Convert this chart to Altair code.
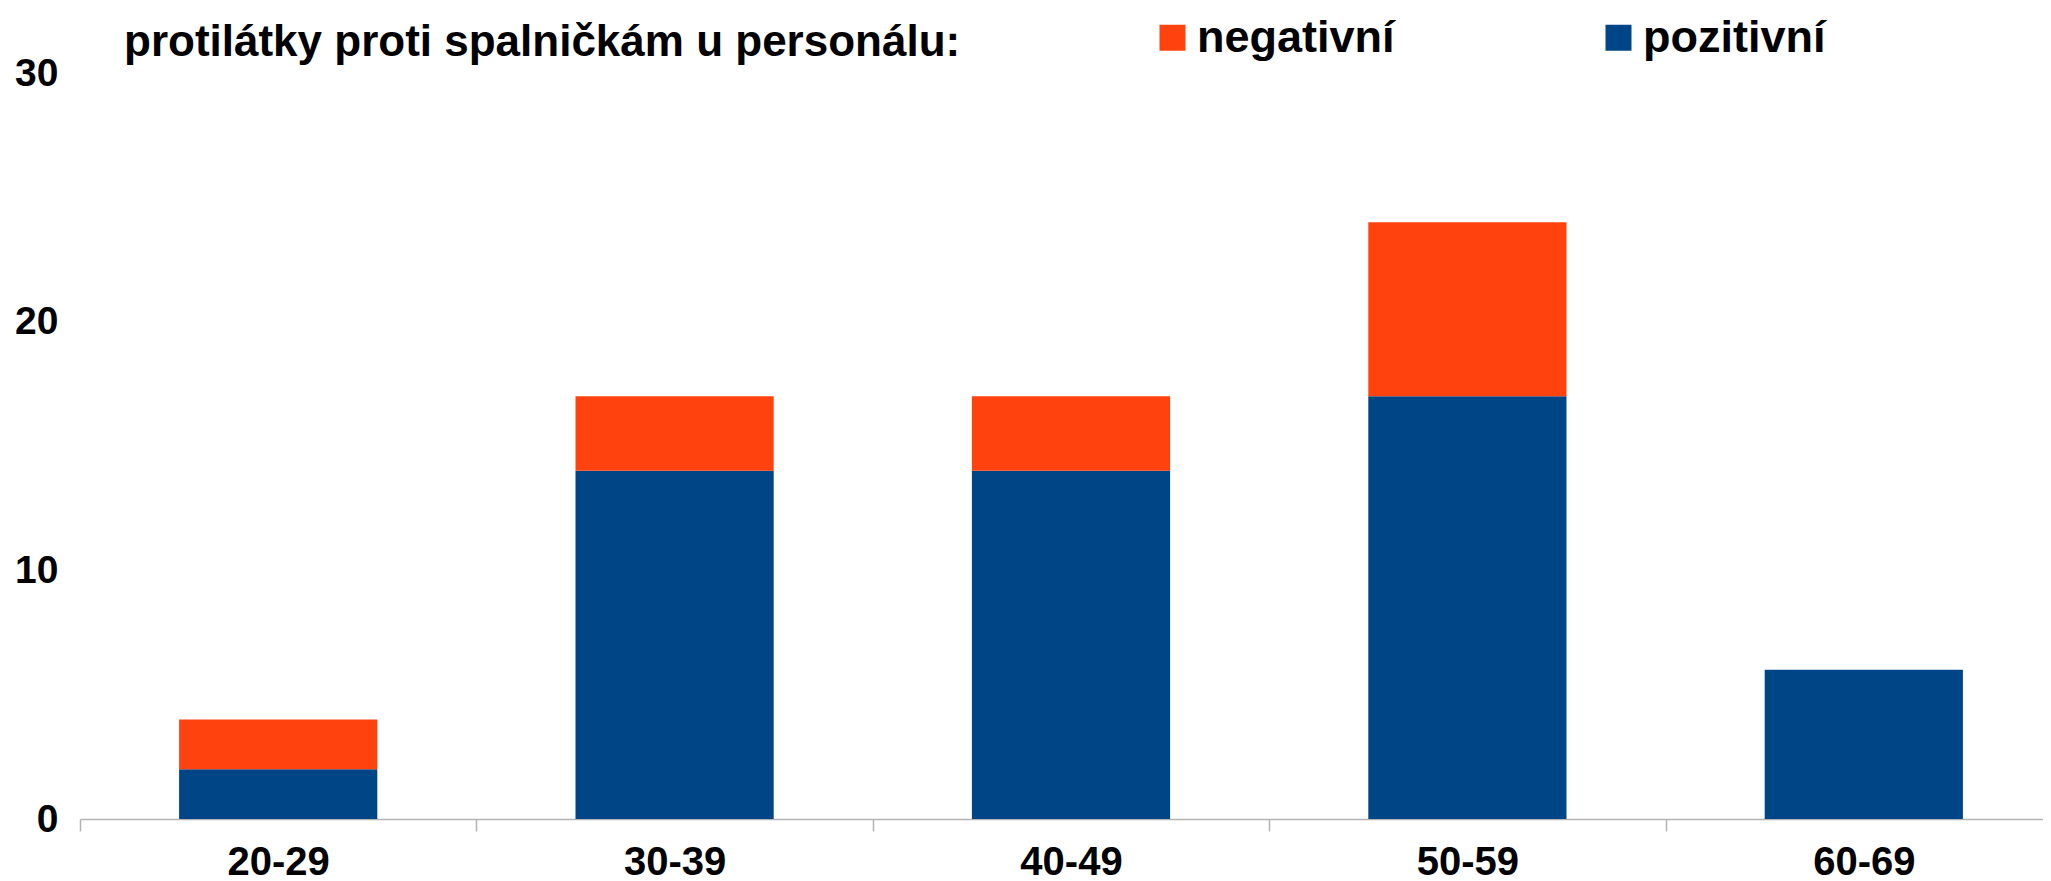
import altair as alt
import pandas as pd

# ---- data ----
age_groups = ["20-29", "30-39", "40-49", "50-59", "60-69"]
pozitivni = [2, 14, 14, 17, 6]
negativni = [2, 3, 3, 7, 0]
series_names = ["negativní", "pozitivní"]
series_colors = ["#ff420e", "#004586"]
y_ticks = [0, 10, 20, 30]
title_text = "protilátky proti spalničkám u personálu:"

rows = []
for g, p, n in zip(age_groups, pozitivni, negativni):
    rows.append({"vek": g, "serie": "pozitivní", "pocet": p, "poradi": 0})
    rows.append({"vek": g, "serie": "negativní", "pocet": n, "poradi": 1})
df = pd.DataFrame(rows)

FONT = "Liberation Sans"
AXIS_GRAY = "#b3b3b3"

chart = (
    alt.Chart(df)
    .mark_bar(width=alt.RelativeBandSize(0.5))
    .encode(
        x=alt.X(
            "vek:N",
            sort=age_groups,
            scale=alt.Scale(paddingInner=0, paddingOuter=0, range=[0, 1982]),
            axis=alt.Axis(
                title=None,
                labelAngle=0,
                labelFont=FONT,
                labelFontSize=40,
                labelFontWeight="bold",
                labelColor="black",
                labelPadding=11,
                tickBand="extent",
                tickSize=12,
                tickColor=AXIS_GRAY,
                tickWidth=1.5,
                domainColor=AXIS_GRAY,
                domainWidth=1.5,
                grid=False,
            ),
        ),
        y=alt.Y(
            "pocet:Q",
            stack="zero",
            scale=alt.Scale(domain=[0, 30], nice=False),
            axis=alt.Axis(
                title=None,
                values=y_ticks,
                grid=False,
                domain=False,
                ticks=False,
                labelFont=FONT,
                labelFontSize=39,
                labelFontWeight="bold",
                labelColor="black",
                labelPadding=22,
            ),
        ),
        color=alt.Color(
            "serie:N",
            scale=alt.Scale(domain=series_names, range=series_colors),
            legend=alt.Legend(
                title=None,
                orient="none",
                legendX=1070,
                legendY=-58,
                direction="horizontal",
                symbolType="square",
                symbolSize=676,
                symbolStrokeWidth=0,
                symbolOpacity=1,
                labelFont=FONT,
                labelFontSize=45,
                labelFontWeight="bold",
                labelColor="black",
                labelOffset=2,
                labelLimit=600,
                columnPadding=201,
                padding=0,
            ),
        ),
        order=alt.Order("poradi:Q", sort="ascending"),
    )
    .properties(
        width=1963,
        height=746,
        title=alt.TitleParams(
            text=title_text,
            anchor="start",
            frame="group",
            font=FONT,
            fontSize=44,
            fontWeight="bold",
            color="black",
            dx=44,
            offset=-50,
        ),
        autosize=alt.AutoSizeParams(type="none"),
        padding={"left": 72, "top": 65, "right": 0, "bottom": 62},
    )
    .configure_view(stroke=None)
)

chart.save("out.html", embed_options={"renderer": "svg", "actions": False})
